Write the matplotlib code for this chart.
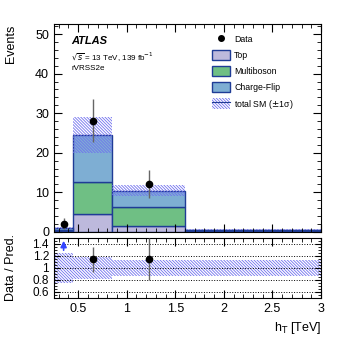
import numpy as np
import matplotlib.pyplot as plt
from matplotlib.patches import Patch
from matplotlib.lines import Line2D
from matplotlib.ticker import MultipleLocator

plt.rcParams["font.family"] = ["Liberation Sans", "DejaVu Sans"]
plt.rcParams["hatch.linewidth"] = 0.6

# binning in h_T [TeV]
edges = np.array([0.25, 0.45, 0.85, 1.6, 3.0])
top = np.array([0.3, 4.6, 1.5, 0.1])
multiboson = np.array([0.3, 8.1, 4.8, 0.3])
charge_flip = np.array([0.4, 11.8, 4.1, 0.2])
sm_err = np.array([0.25, 4.5, 1.4, 0.08])
data = np.array([2, 28, 12])
data_err_lo = np.array([1.3, 5.3, 3.5])
data_err_hi = np.array([1.4, 5.5, 3.6])

ratio = np.array([2.0, 1.15, 1.15])
ratio_err_lo = np.array([0.0, 0.22, 0.35])
ratio_err_hi = np.array([0.0, 0.2, 0.35])

C_TOP = "#bdb9dc"
C_MB = "#6fbf84"
C_CF = "#7eaed3"
C_EDGE = "#1f3c96"
C_HATCH = "#7070ee"
HATCH = "\\" * 11

widths = np.diff(edges)
lefts = edges[:-1]
centers = lefts + widths / 2
total = top + multiboson + charge_flip

fig = plt.figure(figsize=(3.57, 3.40), dpi=100)
ax = fig.add_axes([0.151, 0.318, 0.748, 0.611])
rax = fig.add_axes([0.151, 0.124, 0.748, 0.176])

ax.bar(lefts, top, width=widths, align="edge", color=C_TOP, edgecolor=C_EDGE, lw=1)
ax.bar(lefts, multiboson, width=widths, bottom=top, align="edge",
       color=C_MB, edgecolor=C_EDGE, lw=1)
ax.bar(lefts, charge_flip, width=widths, bottom=top + multiboson, align="edge",
       color=C_CF, edgecolor=C_EDGE, lw=1)
ax.bar(lefts, 2 * sm_err, width=widths, bottom=total - sm_err, align="edge",
       fill=False, edgecolor=C_HATCH, lw=0, hatch=HATCH)
ax.errorbar(centers[:3], data, yerr=[data_err_lo, data_err_hi], fmt="o",
            color="black", ecolor="#666666", ms=4.5, elinewidth=1, capsize=0, zorder=5)

ax.set_xlim(0.25, 3)
ax.set_ylim(0, 52.5)
ax.set_ylabel("Events", fontsize=9, loc="top")
ax.xaxis.set_major_locator(MultipleLocator(0.5))
ax.xaxis.set_minor_locator(MultipleLocator(0.1))
ax.yaxis.set_major_locator(MultipleLocator(10))
ax.yaxis.set_minor_locator(MultipleLocator(2))
ax.tick_params(labelbottom=False)

ax.text(0.065, 0.918, "ATLAS", transform=ax.transAxes, fontsize=8,
        fontweight="bold", fontstyle="italic", va="center")
ax.text(0.065, 0.838, r"$\sqrt{s}$ = 13 TeV, 139 fb$^{-1}$", transform=ax.transAxes,
        fontsize=5.8, va="center")
ax.text(0.065, 0.785, "rVRSS2e", transform=ax.transAxes, fontsize=5.8, va="center")

handles = [
    Line2D([], [], marker="o", color="black", ls="none", ms=4),
    Patch(facecolor=C_TOP, edgecolor=C_EDGE),
    Patch(facecolor=C_MB, edgecolor=C_EDGE),
    Patch(facecolor=C_CF, edgecolor=C_EDGE),
    (Patch(fill=False, edgecolor=C_HATCH, lw=0, hatch=HATCH),
     Line2D([], [], color=C_EDGE, lw=0.8)),
]
labels = ["Data", "Top", "Multiboson", "Charge-Flip", r"total SM ($\pm$1σ)"]
ax.legend(handles, labels, loc="upper left", bbox_to_anchor=(0.58, 0.97),
          frameon=False, fontsize=6.3, handlelength=2.0, handleheight=1.5,
          labelspacing=0.6, handletextpad=0.5, borderaxespad=0)

# ratio panel
rel = sm_err / total
rax.bar(lefts, 2 * rel, width=widths, bottom=1 - rel, align="edge",
        fill=False, edgecolor=C_HATCH, lw=0, hatch=HATCH)
for yv in [0.6, 0.8, 1.0, 1.2, 1.4]:
    rax.axhline(yv, color="black", ls=":", lw=0.7)
inrange = ratio < 1.5
rax.errorbar(centers[:3][inrange], ratio[inrange],
             yerr=[ratio_err_lo[inrange], ratio_err_hi[inrange]], fmt="o",
             color="black", ecolor="#666666", ms=4.5, elinewidth=1, capsize=0, zorder=5)
for xc, r in zip(centers[:3], ratio):
    if r >= 1.5:
        rax.annotate("", xy=(xc, 1.5), xytext=(xc, 1.25),
                     arrowprops=dict(arrowstyle="-|>", color="#3344ff", lw=1.2,
                                     mutation_scale=9))

rax.set_xlim(0.25, 3)
rax.set_ylim(0.5, 1.5)
rax.set_yticks([0.6, 0.8, 1.0, 1.2, 1.4])
rax.set_yticklabels(["0.6", "0.8", "1", "1.2", "1.4"])
rax.yaxis.set_minor_locator(MultipleLocator(0.05))
rax.xaxis.set_minor_locator(MultipleLocator(0.1))
rax.set_xticks([0.5, 1, 1.5, 2, 2.5, 3])
rax.set_xticklabels(["0.5", "1", "1.5", "2", "2.5", "3"])
rax.set_xlabel(r"h$_{\mathrm{T}}$ [TeV]", fontsize=9, loc="right")
rax.set_ylabel("Data / Pred.", fontsize=9)

for a in (ax, rax):
    a.tick_params(which="both", direction="in", top=True, right=True, labelsize=9)
    a.tick_params(which="major", length=6)
    a.tick_params(which="minor", length=3)
rax.tick_params(axis="y", which="major", labelsize=8.5, length=4)
rax.tick_params(axis="y", which="minor", length=2)

ax.yaxis.set_label_coords(-0.14, 1.0)
rax.yaxis.set_label_coords(-0.14, 0.5)

fig.savefig("out.png", dpi=100)
